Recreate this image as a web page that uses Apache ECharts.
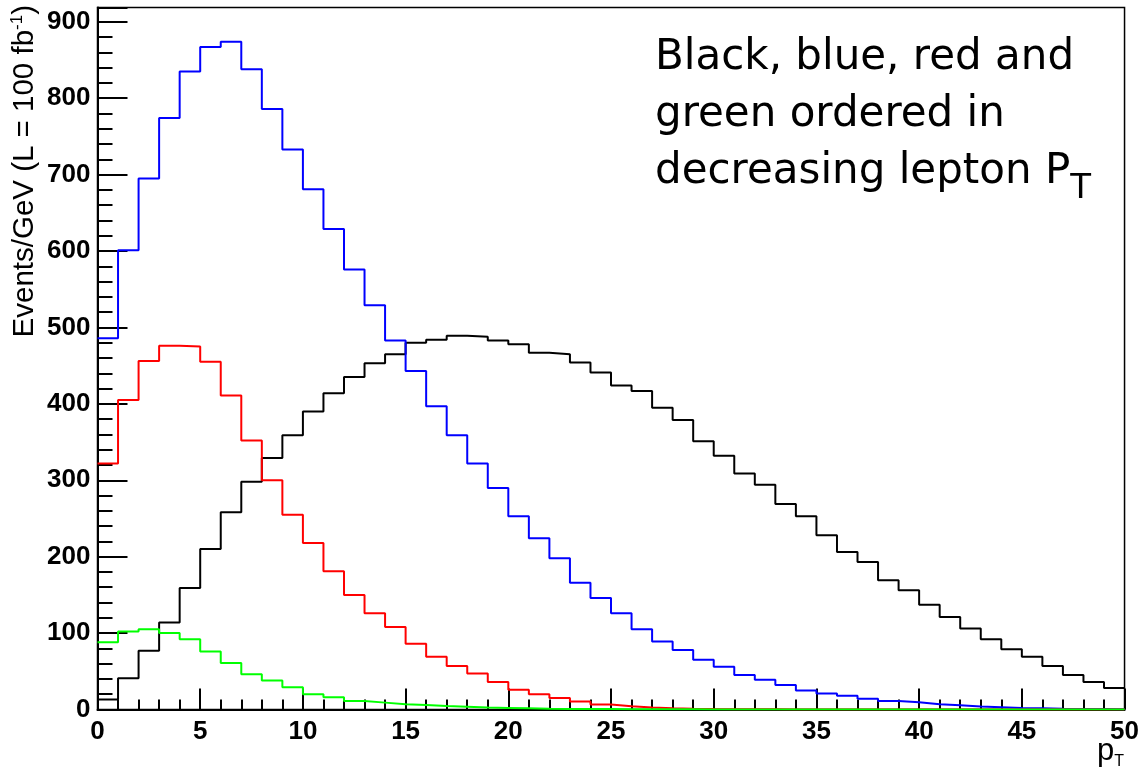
<!DOCTYPE html>
<html><head><meta charset="utf-8">
<script src="https://cdn.jsdelivr.net/npm/echarts@6/dist/echarts.min.js"></script>
<style>html,body{margin:0;padding:0;background:#fff}#c{width:1142px;height:773px}</style>
</head><body><div id="c"></div>
<script>
// bin lower edges are 0..49 (bin width 1 GeV); values in Events/GeV
const blackVals = [13,41,77,114,159,210,258,298,329,359,390,414,435,453,465,480,484,489,488,483,478,467,465,454,441,424,417,395,379,351,332,309,294,269,253,228,206,193,169,156,137,121,106,92,79,69,57,45,36,28];
const blueVals = [486,601,695,774,835,867,874,838,786,733,681,629,576,529,483,443,397,359,322,290,253,224,198,166,146,126,105,89,78,65,56,45,39,32,25,21,18,14,11,9.5,7,5.5,4,3,2,1.5,1,0.7,0.5,0.3];
const redVals = [322,405,456,476,475,455,411,352,300,255,218,181,150,126,108,86,69,57,47,36,26,20,15,10.5,6.5,4.3,2.6,1.5,1,0.6,0.4,0.3,0.2,0.1,0.1,0.1,0,0,0,0,0,0,0,0,0,0,0,0,0,0];
const greenVals = [88,102,105,100,92,76,61,46,38,29,20,16,11,9,7,6,4.5,3.5,2.5,2,1.5,1,0.8,0.6,0.5,0.4,0.3,0.2,0.2,0.1,0.1,0.1,0,0,0,0,0,0,0,0,0,0,0,0,0,0,0,0,0,0];
const xTicks = [0,5,10,15,20,25,30,35,40,45,50];
const yTicks = [0,100,200,300,400,500,600,700,800,900];
const yMax = 918.75;

function hist(vals){
  const d = vals.map((v,i)=>[i, v]);
  d.push([vals.length, vals[vals.length-1]]);
  return d;
}
const chart = echarts.init(document.getElementById('c'), null, {renderer:'canvas'});
const lblFont = 'Liberation Sans';
function mk(name, vals, color, z){
  return {name, type:'line', step:'end', data:hist(vals), symbol:'none', showSymbol:false,
    lineStyle:{color, width:2}, itemStyle:{color}, z, animation:false, clip:true};
}
chart.setOption({
  animation:false,
  backgroundColor:'#fff',
  grid:{left:97.5, right:14.5, top:7.5, bottom:63.5, show:true, borderColor:'#000', borderWidth:1.5, backgroundColor:'transparent'},
  xAxis:{type:'value', min:xTicks[0], max:xTicks[xTicks.length-1], interval:5,
    axisLine:{show:true, lineStyle:{color:'#000', width:2}},
    axisTick:{show:true, inside:true, length:21, lineStyle:{color:'#000', width:2}},
    minorTick:{show:true, splitNumber:5, length:10, lineStyle:{color:'#000', width:2}},
    axisLabel:{color:'#000', fontFamily:lblFont, fontWeight:'bold', fontSize:26, margin:9,
      formatter:v=> xTicks.includes(v) ? String(v) : ''},
    splitLine:{show:false}},
  yAxis:[
    {type:'value', min:0, max:yMax, interval:100,
      axisLine:{show:true, lineStyle:{color:'#000', width:2}},
      axisTick:{show:true, inside:true, length:30, lineStyle:{color:'#000', width:2}},
      axisLabel:{color:'#000', fontFamily:lblFont, fontWeight:'bold', fontSize:26, margin:7,
        formatter:v=> yTicks.includes(v) ? String(v) : ''},
      splitLine:{show:false}},
    {type:'value', min:0, max:yMax, interval:20, position:'left',
      axisLine:{show:false},
      axisTick:{show:true, inside:true, length:15, lineStyle:{color:'#000', width:2}},
      axisLabel:{show:false}, splitLine:{show:false}}
  ],
  series:[
    mk('black', blackVals, '#000000', 2),
    mk('blue', blueVals, '#0000ff', 3),
    mk('red', redVals, '#ff0000', 4),
    mk('green', greenVals, '#00ff00', 5)
  ],
  graphic:[
    {type:'text', x:25, y:5, rotation:Math.PI/2, z:10,
      style:{text:'Events/GeV (L = 100 fb{sup|-1})', fontFamily:'Liberation Sans', fontSize:29.5, fill:'#000',
        align:'right', verticalAlign:'middle',
        rich:{sup:{fontFamily:'Liberation Sans', fontSize:17, fill:'#000', verticalAlign:'top', padding:[0,0,15,0]}}}},
    {type:'text', left:655, top:30, z:10,
      style:{text:'Black, blue, red and\ngreen ordered in\ndecreasing lepton P{sub|T}', fontFamily:'DejaVu Sans', fontSize:42, lineHeight:57, fill:'#000',
        rich:{sub:{fontFamily:'DejaVu Sans', fontSize:34, lineHeight:24, fill:'#000', padding:[33,0,0,0]}}}},
    {type:'text', x:1097, y:751, z:10,
      style:{text:'p{sub|T}', fontFamily:'Liberation Sans', fontSize:31, fill:'#000', verticalAlign:'middle',
        rich:{sub:{fontFamily:'Liberation Sans', fontSize:16, lineHeight:10, fill:'#000', padding:[22,0,0,0]}}}}
  ]
});
</script></body></html>
